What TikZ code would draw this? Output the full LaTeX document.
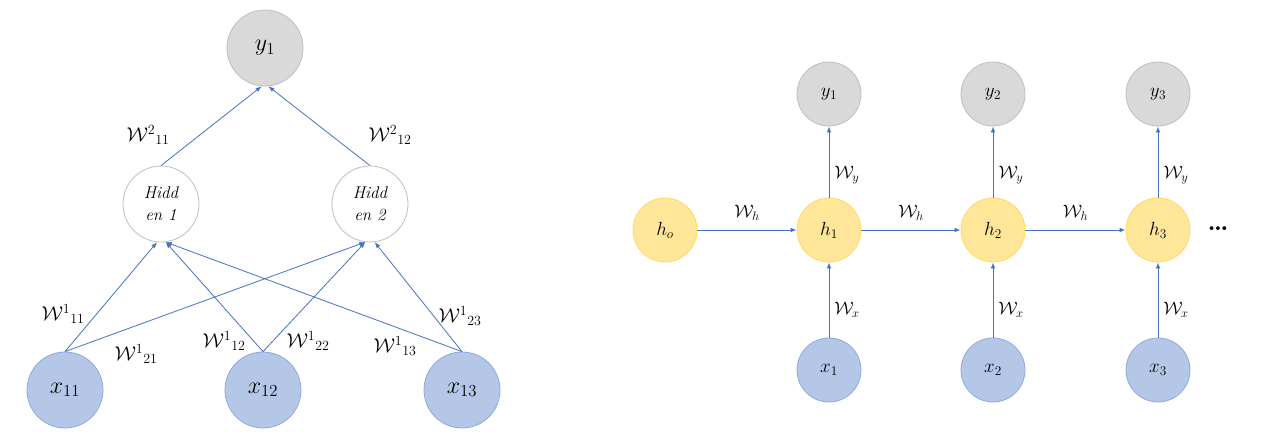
\RequirePackage{fix-cm}
\documentclass[tikz,border=0pt]{standalone}
\usepackage{amsmath}
\usetikzlibrary{arrows.meta}
\definecolor{arrc}{HTML}{4472C4}
\definecolor{greyfill}{HTML}{D9D9D9}
\definecolor{greyline}{HTML}{BFBFBF}
\definecolor{bluefill}{HTML}{B4C7E7}
\definecolor{blueline}{HTML}{8FAADC}
\definecolor{yelfill}{HTML}{FFE699}
\definecolor{yelline}{HTML}{FFD966}
\tikzset{
  bignode/.style={circle, minimum size=76pt, inner sep=0pt, line width=0.8pt, font=\fontsize{24}{24}\selectfont},
  smallnode/.style={circle, minimum size=64pt, inner sep=0pt, line width=0.8pt, font=\fontsize{19}{19}\selectfont},
  outnode/.style={fill=greyfill, draw=greyline},
  innode/.style={fill=bluefill, draw=blueline},
  hidnode/.style={fill=white, draw=greyline, align=center, font=\fontsize{17}{22}\selectfont\itshape},
  statenode/.style={fill=yelfill, draw=yelline},
  arr/.style={draw=arrc, line width=0.8pt, -{Latex[length=6pt,width=4.5pt]}},
  wbig/.style={inner sep=0pt, font=\fontsize{20}{20}\selectfont},
  wsmall/.style={inner sep=0pt, font=\fontsize{18}{18}\selectfont},
}
\begin{document}
\begin{tikzpicture}[x=1pt, y=-1pt]
\useasboundingbox[fill=white] (0,0) rectangle (1272,442);
% ---------------- left: feed-forward network ----------------
\node[bignode, outnode] (y1) at (265,48) {$y_1$};
\node[bignode, hidnode] (hd1) at (161,204) {Hidd\\en 1};
\node[bignode, hidnode] (hd2) at (370,204) {Hidd\\en 2};
\node[bignode, innode] (x11) at (65,390) {$x_{11}$};
\node[bignode, innode] (x12) at (263,390) {$x_{12}$};
\node[bignode, innode] (x13) at (462,390) {$x_{13}$};
\draw[arr] (x11.north) -- (hd1.264);
\draw[arr] (x11.north) -- (hd2.263);
\draw[arr] (x12.north) -- (hd1.277);
\draw[arr] (x12.north) -- (hd2.263);
\draw[arr] (x13.north) -- (hd1.277);
\draw[arr] (x13.north) -- (hd2.277);
\draw[arr] (hd1.north) -- (y1.265);
\draw[arr] (hd2.north) -- (y1.275);
\node[wbig] (w211) at (148,135) {$\mathcal{W}^{2}{}_{11}$};
\node[wbig] (w212) at (390,135) {$\mathcal{W}^{2}{}_{12}$};
\node[wbig] (w111) at (63,314) {$\mathcal{W}^{1}{}_{11}$};
\node[wbig] (w121) at (136,354) {$\mathcal{W}^{1}{}_{21}$};
\node[wbig] (w112) at (224,341) {$\mathcal{W}^{1}{}_{12}$};
\node[wbig] (w122) at (308,341) {$\mathcal{W}^{1}{}_{22}$};
\node[wbig] (w113) at (395,346) {$\mathcal{W}^{1}{}_{13}$};
\node[wbig] (w123) at (460,316) {$\mathcal{W}^{1}{}_{23}$};
% ---------------- right: recurrent network ----------------
\node[smallnode, statenode] (h0) at (665,230) {$h_o$};
\node[smallnode, statenode] (h1) at (829,230) {$h_1$};
\node[smallnode, statenode] (h2) at (993,230) {$h_2$};
\node[smallnode, statenode] (h3) at (1158,230) {$h_3$};
\node[smallnode, outnode] (o1) at (829,94) {$y_1$};
\node[smallnode, outnode] (o2) at (993,94) {$y_2$};
\node[smallnode, outnode] (o3) at (1158,94) {$y_3$};
\node[smallnode, innode] (i1) at (829,370) {$x_1$};
\node[smallnode, innode] (i2) at (993,370) {$x_2$};
\node[smallnode, innode] (i3) at (1158,370) {$x_3$};
\node[inner sep=0pt, font=\fontsize{26}{26}\selectfont\bfseries] (dots) at (1218,229) {\ldots};
\draw[arr] (h0) -- node[wsmall, midway, yshift=17pt] (lh1) {$\mathcal{W}_h$} (h1);
\draw[arr] (h1) -- node[wsmall, midway, yshift=17pt] (lh2) {$\mathcal{W}_h$} (h2);
\draw[arr] (h2) -- node[wsmall, midway, yshift=17pt] (lh3) {$\mathcal{W}_h$} (h3);
\draw[arr] (h1) -- node[wsmall, midway, xshift=18pt, yshift=-13pt] (ly1) {$\mathcal{W}_y$} (o1);
\draw[arr] (h2) -- node[wsmall, midway, xshift=18pt, yshift=-13pt] (ly2) {$\mathcal{W}_y$} (o2);
\draw[arr] (h3) -- node[wsmall, midway, xshift=18pt, yshift=-13pt] (ly3) {$\mathcal{W}_y$} (o3);
\draw[arr] (i1) -- node[wsmall, midway, xshift=18pt, yshift=-10pt] (lx1) {$\mathcal{W}_x$} (h1);
\draw[arr] (i2) -- node[wsmall, midway, xshift=18pt, yshift=-10pt] (lx2) {$\mathcal{W}_x$} (h2);
\draw[arr] (i3) -- node[wsmall, midway, xshift=18pt, yshift=-10pt] (lx3) {$\mathcal{W}_x$} (h3);
\end{tikzpicture}
\end{document}
